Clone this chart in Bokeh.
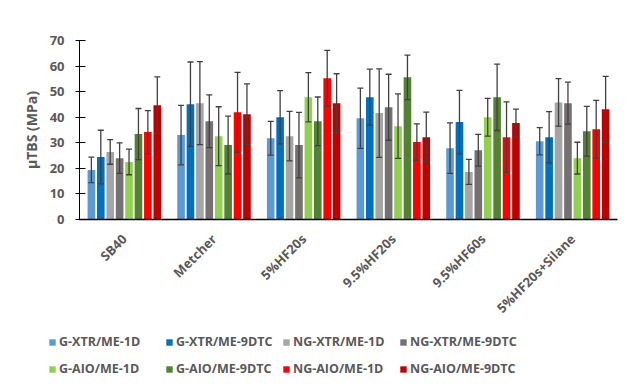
import math
from bokeh.plotting import figure
from bokeh.models import FactorRange, Range1d, Legend, LegendItem, ColumnDataSource, FixedTicker
from bokeh.transform import dodge
from bokeh.embed import file_html
from bokeh.resources import INLINE

categories = ["SB40", "Metcher", "5%HF20s", "9.5%HF20s", "9.5%HF60s", "5%HF20s+Silane"]
series_names = ["G-XTR/ME-1D", "G-XTR/ME-9DTC", "NG-XTR/ME-1D", "NG-XTR/ME-9DTC",
                "G-AIO/ME-1D", "G-AIO/ME-9DTC", "NG-AIO/ME-1D", "NG-AIO/ME-9DTC"]
colors = ["#5B9BD5", "#0070C0", "#A5A5A5", "#767171", "#92D050", "#548235", "#FF0000", "#C00000"]

g_xtr_1d = [19.4, 33.0, 31.8, 39.6, 27.9, 30.6]
g_xtr_1d_sd = [5.0, 11.6, 6.6, 11.8, 9.9, 5.3]
g_xtr_9dtc = [24.4, 45.1, 40.0, 47.8, 38.1, 32.2]
g_xtr_9dtc_sd = [10.5, 16.5, 10.4, 11.0, 12.4, 10.0]
ng_xtr_1d = [26.4, 45.5, 32.6, 41.6, 18.6, 45.8]
ng_xtr_1d_sd = [4.8, 16.2, 9.7, 17.3, 4.9, 9.3]
ng_xtr_9dtc = [24.0, 38.4, 29.1, 43.9, 27.1, 45.5]
ng_xtr_9dtc_sd = [6.0, 10.3, 12.8, 12.9, 6.2, 8.2]
g_aio_1d = [22.5, 32.6, 47.8, 36.5, 40.0, 24.0]
g_aio_1d_sd = [5.0, 11.5, 9.6, 12.6, 7.4, 6.2]
g_aio_9dtc = [33.4, 29.1, 38.4, 55.6, 47.8, 34.5]
g_aio_9dtc_sd = [10.0, 11.3, 9.5, 8.7, 13.0, 9.7]
ng_aio_1d = [34.2, 41.9, 55.2, 30.3, 32.2, 35.3]
ng_aio_1d_sd = [8.4, 15.6, 10.9, 7.1, 13.8, 11.3]
ng_aio_9dtc = [44.7, 41.2, 45.5, 32.2, 37.7, 43.1]
ng_aio_9dtc_sd = [11.1, 11.8, 11.5, 9.8, 5.5, 12.9]

means = [g_xtr_1d, g_xtr_9dtc, ng_xtr_1d, ng_xtr_9dtc, g_aio_1d, g_aio_9dtc, ng_aio_1d, ng_aio_9dtc]
sds = [g_xtr_1d_sd, g_xtr_9dtc_sd, ng_xtr_1d_sd, ng_xtr_9dtc_sd, g_aio_1d_sd, g_aio_9dtc_sd, ng_aio_1d_sd, ng_aio_9dtc_sd]

y_ticks = [0, 10, 20, 30, 40, 50, 60, 70]

FONT = "Open Sans"
GREY = "#595959"

p = figure(x_range=FactorRange(*categories), y_range=Range1d(0, 70),
           width=640, height=328, output_backend="svg", toolbar_location=None,
           min_border_left=79, min_border_right=23, min_border_top=40, min_border_bottom=109)
p.outline_line_color = None
p.xgrid.grid_line_color = None
p.ygrid.grid_line_color = None

pitch = 0.105
bw = 0.085
for i, (name, col, m, s) in enumerate(zip(series_names, colors, means, sds)):
    off = (i - 3.5) * pitch
    src = ColumnDataSource(dict(cat=categories, top=m,
                                hi=[a + b for a, b in zip(m, s)],
                                lo=[a - b for a, b in zip(m, s)]))
    p.vbar(x=dodge("cat", off, range=p.x_range), top="top", width=bw, source=src,
           fill_color=col, line_color=None)
    p.segment(x0=dodge("cat", off, range=p.x_range), y0="lo",
              x1=dodge("cat", off, range=p.x_range), y1="hi", source=src,
              line_color="#404040", line_width=1.3)
    for key in ("hi", "lo"):
        p.scatter(x=dodge("cat", off, range=p.x_range), y=key, source=src, marker="dash",
                  size=6, line_color="#404040", line_width=1.3)

p.yaxis.ticker = FixedTicker(ticks=y_ticks)
p.yaxis.axis_label = "µTBS (MPa)"
p.yaxis.axis_label_text_font = FONT
p.yaxis.axis_label_text_font_style = "bold"
p.yaxis.axis_label_text_font_size = "14px"
p.yaxis.axis_label_text_color = GREY
p.yaxis.axis_label_standoff = 6
p.yaxis.major_label_text_font = FONT
p.yaxis.major_label_text_font_style = "bold"
p.yaxis.major_label_text_font_size = "13px"
p.yaxis.major_label_text_color = GREY
p.yaxis.major_label_standoff = 11
p.yaxis.major_tick_in = 6
p.yaxis.major_tick_out = 4
p.yaxis.minor_tick_line_color = None
p.yaxis.axis_line_color = "black"
p.yaxis.major_tick_line_color = "black"

p.xaxis.major_tick_line_color = None
p.xaxis.axis_line_color = "black"
p.xaxis.axis_line_width = 1.5
p.xaxis.major_label_orientation = math.pi / 4
p.xaxis.major_label_text_font = FONT
p.xaxis.major_label_text_font_style = "bold"
p.xaxis.major_label_text_font_size = "13px"
p.xaxis.major_label_text_color = GREY
p.xaxis.major_label_standoff = 11

# legend-only figure below
lg = figure(width=640, height=56, output_backend="svg", toolbar_location=None,
            x_range=Range1d(0, 1), y_range=Range1d(0, 1),
            x_axis_location=None, y_axis_location=None,
            min_border_left=0, min_border_right=0, min_border_top=0, min_border_bottom=0)
lg.outline_line_color = None
lg.xgrid.grid_line_color = None
lg.ygrid.grid_line_color = None
items = []
for name, col in zip(series_names, colors):
    r = lg.vbar(x=[5], top=[5], width=0.1, fill_color=col, line_color=None)
    items.append(LegendItem(label=name, renderers=[r]))

legend = Legend(items=items, orientation="horizontal", ncols=4, nrows=2,
                location=(48, 2), border_line_color=None, background_fill_alpha=0,
                padding=0, margin=0, spacing=0, glyph_width=8, glyph_height=8,
                label_standoff=3, label_width=106, label_height=27,
                label_text_font=FONT, label_text_font_style="bold",
                label_text_font_size="12.5px", label_text_color=GREY)
lg.add_layout(legend, "center")

open("out.html", "w").write(file_html([p, lg], INLINE))
